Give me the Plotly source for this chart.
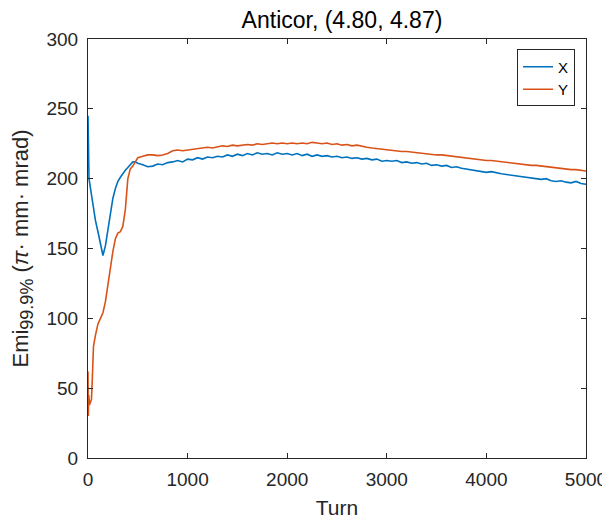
import plotly.graph_objects as go

# ---------------- data ----------------
early_turn_x = [0, 5, 10, 25, 50, 75, 100, 125, 150, 175, 200, 225, 250, 275,
                300, 325, 350, 375, 400, 425, 450, 475]
early_emi_x = [245, 225, 200, 193, 180, 170, 162, 152, 145, 152, 164, 176, 186, 193,
               198, 201, 204, 206, 208, 210, 212, 212]

late_turn = list(range(500, 5001, 50))
late_emi_x = [211, 210, 208.5, 209, 210.5, 210, 211.5, 212, 213, 212, 214,
              213.5, 215, 214, 215.5, 215, 216, 215.5, 217, 216, 217.5,
              216.5, 218, 217, 218.5, 217.5, 218, 217, 218.5, 217.5, 218,
              217, 218, 216.5, 217.5, 216, 217, 216, 216.5, 215.5, 216,
              215, 215.5, 214.5, 215, 214, 214.5, 213.5, 214, 212.5, 213,
              212.5, 213, 211.5, 212, 211, 211.5, 210.5, 211, 209.5, 210,
              209, 209.5, 208, 208.5, 207.5, 207, 206.5, 206, 205.5, 204.5,
              205, 204, 203.5, 203, 202.5, 202, 201.5, 201, 200.5, 200,
              199.5, 200, 198.5, 198, 198.5, 197.5, 197, 198, 196.5, 196]

early_turn_y = [0, 3, 8, 15, 25, 35, 45, 55, 75, 100, 125, 150, 175, 200, 225,
                250, 275, 300, 325, 350, 375, 400, 425, 450, 475]
early_emi_y = [62, 30, 45, 38, 40, 42, 60, 80, 88, 96, 100, 104, 112, 125, 138,
               148, 157, 161, 162, 166, 178, 200, 207, 209, 212]
late_emi_y = [215, 216, 217, 217, 216.5, 217, 218, 220, 220.5, 220, 220.5,
              221, 221.5, 222, 222.5, 222, 223, 223.5, 223, 224, 223.5,
              224, 224.5, 224, 225, 224.5, 225, 225.5, 225, 225.5, 225,
              225.5, 225, 225.5, 225, 226, 225.5, 225, 225.5, 224.5, 225,
              224, 224.5, 223.5, 224, 223, 222.5, 222, 221.5, 221, 220.5,
              220.5, 220, 219.5, 219.5, 219, 218.5, 218.5, 218, 217.5, 217,
              217, 216.5, 216, 215.5, 215.5, 215, 214.5, 214, 213.5, 213,
              213, 212.5, 212, 211.5, 211.5, 211, 210.5, 210, 209.5, 209.5,
              209, 208.5, 208, 208, 207.5, 207, 206.5, 206.5, 206, 205.5]

turn_x = early_turn_x + late_turn
emi_x = early_emi_x + late_emi_x
turn_y = early_turn_y + late_turn
emi_y = early_emi_y + late_emi_y

x_ticks = [0, 1000, 2000, 3000, 4000, 5000]
y_ticks = [0, 50, 100, 150, 200, 250, 300]

BLUE = "#0072BD"
ORANGE = "#D95319"
TXT = "#262626"
FONT = "Liberation Sans, Arial, sans-serif"

fig = go.Figure()
fig.add_trace(go.Scatter(x=turn_x, y=emi_x, mode="lines", name="X",
                         line=dict(color=BLUE, width=1.6)))
fig.add_trace(go.Scatter(x=turn_y, y=emi_y, mode="lines", name="Y",
                         line=dict(color=ORANGE, width=1.6)))

axis_common = dict(showline=True, linecolor=TXT, linewidth=1, mirror="ticks",
                   ticks="inside", ticklen=5, tickcolor=TXT, showgrid=False,
                   zeroline=False, automargin=False,
                   tickfont=dict(family=FONT, size=19, color=TXT))

fig.update_layout(
    width=602, height=514,
    margin=dict(l=80, r=24, t=31, b=64),
    paper_bgcolor="white", plot_bgcolor="white",
    font=dict(family=FONT, color=TXT),
    title=dict(text="Anticor, (4.80, 4.87)", x=0.51, xref="paper", xanchor="center",
               y=0.976, yanchor="middle", automargin=False,
               font=dict(family=FONT, size=23, color="black")),
    xaxis=dict(range=[0, 5000], tickvals=x_ticks, ticklabelstandoff=4,
               title=dict(text="Turn", font=dict(family=FONT, size=21, color=TXT),
                          standoff=11),
               **axis_common),
    yaxis=dict(range=[0, 300], tickvals=y_ticks, ticklabelstandoff=5,
               title=dict(text="Emi<sub><span style='font-size:18px'>99.9%</span></sub> "
                               "(<i>π</i>· mm· mrad)",
                          font=dict(family=FONT, size=22, color=TXT), standoff=11),
               **axis_common),
    legend=dict(x=0.978, y=0.975, xanchor="right", yanchor="top",
                bgcolor="white", bordercolor="#262626", borderwidth=1,
                font=dict(family=FONT, size=15, color="black"),
                tracegroupgap=0, itemwidth=30),
    showlegend=True,
)

fig.write_html("out.html")
